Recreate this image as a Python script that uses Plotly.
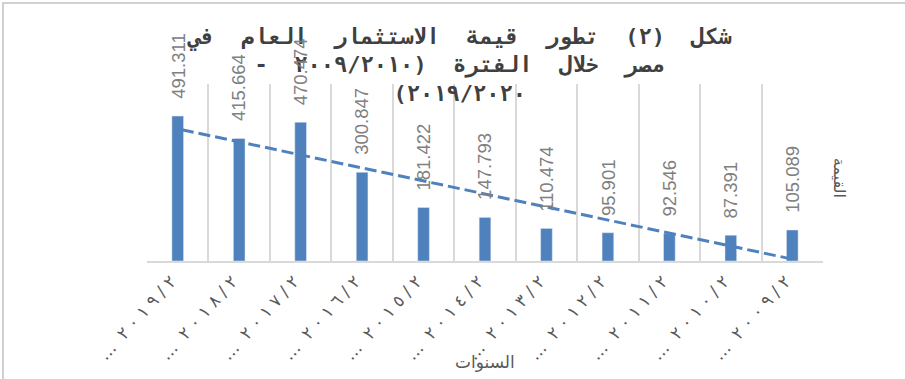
import numpy as np
import plotly.graph_objects as go

# ---- data (chronological order) ----
years = ["٢٠٠٩/٢٠١٠", "٢٠١٠/٢٠١١", "٢٠١١/٢٠١٢", "٢٠١٢/٢٠١٣", "٢٠١٣/٢٠١٤",
         "٢٠١٤/٢٠١٥", "٢٠١٥/٢٠١٦", "٢٠١٦/٢٠١٧", "٢٠١٧/٢٠١٨", "٢٠١٨/٢٠١٩", "٢٠١٩/٢٠٢٠"]
values = [105.089, 87.391, 92.546, 95.901, 110.474, 147.793, 181.422,
          300.847, 470.474, 415.664, 491.311]
value_labels = ["105.089", "87.391", "92.546", "95.901", "110.474", "147.793",
                "181.422", "300.847", "470.474", "415.664", "491.311"]

title_lines = ["شكل (٢) تطور قيمة الاستثمار العام في",
               "مصر خلال الفترة (٢٠٠٩/٢٠١٠ -",
               "٢٠١٩/٢٠٢٠)"]
x_title = "السنوات"
y_title = "القيمة"

RLM = "\u200f"
LRO, PDF = "\u202d", "\u202c"
# truncated tick labels as shown (first 6 characters + ellipsis), drawn with wide spacing
tick_text = [LRO + "…  " + " ".join(y[:6]) + PDF for y in years]

# linear trend (Excel-style trendline) over the category index
idx = np.arange(1, len(values) + 1)
slope, intercept = np.polyfit(idx, values, 1)
trend = slope * idx + intercept

BLUE = "#4f81bd"
GRID = "#d9d9d9"

fig = go.Figure()
fig.add_trace(go.Bar(x=years, y=values, marker_color=BLUE, width=0.19,
                     showlegend=False, hoverinfo="skip"))
fig.add_trace(go.Scatter(x=years, y=trend, mode="lines",
                         line=dict(color=BLUE, width=3, dash="12px,5px"),
                         showlegend=False, hoverinfo="skip"))

annotations = []
for yv, v, lab in zip(years, values, value_labels):
    annotations.append(dict(x=yv, y=v, xref="x", yref="y", text=lab, showarrow=False,
                            textangle=-90, yanchor="bottom", xanchor="center", yshift=15,
                            font=dict(family="Liberation Sans", size=18.5, color="#808080")))

annotations.append(dict(x=0.5, y=-0.571, xref="paper", yref="paper", text=x_title,
                        showarrow=False, xanchor="center", yanchor="middle",
                        font=dict(family="DejaVu Sans", size=17, color="#595959")))
annotations.append(dict(x=1.0237, y=0.47, xref="paper", yref="paper", text=y_title,
                        showarrow=False, textangle=90, xanchor="center", yanchor="middle",
                        font=dict(family="DejaVu Sans", size=16, color="#595959")))

title_text = "<br>".join(RLM + t.replace(" ", " \u00a0") + RLM for t in title_lines)

fig.update_layout(
    width=905, height=379,
    margin=dict(l=147, r=82, t=84, b=118),
    paper_bgcolor="white", plot_bgcolor="white",
    title=dict(text=title_text,
               x=0.508, xanchor="center", xref="container",
               y=0.885, yanchor="top", yref="container",
               font=dict(family="DejaVu Sans Mono", size=22, color="#404040", weight="bold")),
    annotations=annotations,
    shapes=[
        dict(type="rect", xref="paper", yref="paper", x0=-0.2130, x1=1.3, y0=-0.8, y1=1.4576,
             line=dict(color="#d0d0d0", width=2), fillcolor="rgba(0,0,0,0)", layer="below"),
    ],
)
fig.update_xaxes(type="category", categoryorder="array", categoryarray=years,
                 autorange="reversed", tickson="boundaries", showgrid=True,
                 gridcolor=GRID, gridwidth=1.5, showline=True, linecolor=GRID, linewidth=1.5,
                 ticks="", tickmode="array", tickvals=years, ticktext=tick_text,
                 tickangle=-48, ticklabelstandoff=2, ticklabelshift=7,
                 tickfont=dict(family="DejaVu Sans", size=17, color="#595959"))
fig.update_yaxes(range=[0, 600], showticklabels=False, showgrid=False, zeroline=False,
                 showline=False)

fig.write_html("out.html")
